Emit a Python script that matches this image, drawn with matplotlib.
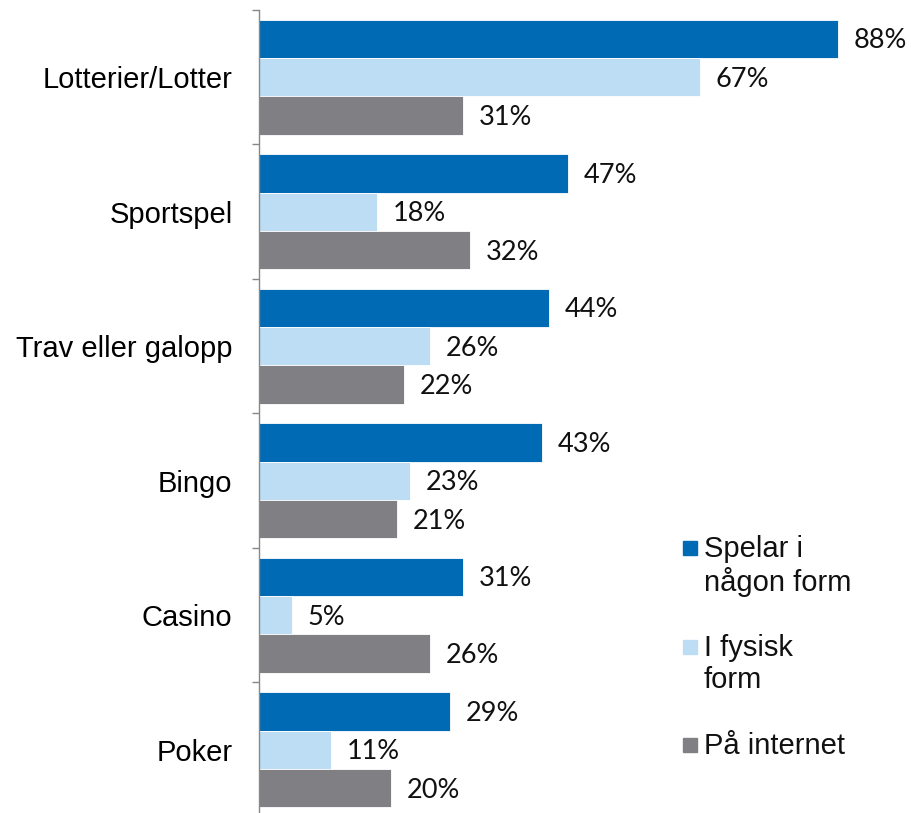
import matplotlib
matplotlib.use("Agg")
import matplotlib.pyplot as plt
import numpy as np
from matplotlib.patches import Rectangle

categories = ["Lotterier/Lotter", "Sportspel", "Trav eller galopp", "Bingo", "Casino", "Poker"]
series_names = ["Spelar i\nnågon form", "I fysisk\nform", "På internet"]
spelar = [88, 47, 44, 43, 31, 29]
fysisk = [67, 18, 26, 23, 5, 11]
internet = [31, 32, 22, 21, 26, 20]
colors = ["#006AB4", "#BDDDF5", "#808084"]

W, H = 911, 813
fig = plt.figure(figsize=(W / 100, H / 100), dpi=100)
# axes spans from spine at x=259 to right edge, y from 10px to 817px (below bottom)
ax = fig.add_axes([259 / W, 1 - 817 / H, 1 - 259 / W, 807 / H])

n = len(categories)
bh = 0.286
offsets = [-bh, 0, bh]
y = np.arange(n) + 0.5
for vals, col, off in zip([spelar, fysisk, internet], colors, offsets):
    bars = ax.barh(y + off, vals, height=bh, color=col, edgecolor="white", linewidth=0.6)
    for b, v in zip(bars, vals):
        ax.text(v + 2.4, b.get_y() + b.get_height() / 2 + 0.015, f"{v}%", va="center", ha="left",
                fontsize=19.5, family="Lato", color="#111111")

ax.set_xlim(0, 652 / 6.58)
ax.set_ylim(n, 0)
ax.set_yticks(y)
ax.set_yticklabels(categories, fontsize=21, family="Liberation Sans")
ax.tick_params(axis="y", which="major", length=0, pad=19)
ax.set_yticks(np.arange(n + 1), minor=True)
ax.tick_params(axis="y", which="minor", length=5, width=1, color="#888888", direction="out")
ax.set_xticks([])
for s in ["top", "right", "bottom"]:
    ax.spines[s].set_visible(False)
ax.spines["left"].set_color("#888888")
ax.spines["left"].set_linewidth(1)

# legend drawn by hand: square aligned with the first text line
leg_y = [548, 647, 745]
for name, col, yy in zip(series_names, colors, leg_y):
    fig.patches.append(Rectangle((683 / W, 1 - (yy + 7) / H), 14 / W, 14 / H,
                                 transform=fig.transFigure, color=col))
    fig.text(704 / W, 1 - (yy - 13) / H, name, fontsize=21, family="Liberation Sans",
             va="top", ha="left", linespacing=1.17, color="#111111")

fig.savefig("out.png", dpi=100)
